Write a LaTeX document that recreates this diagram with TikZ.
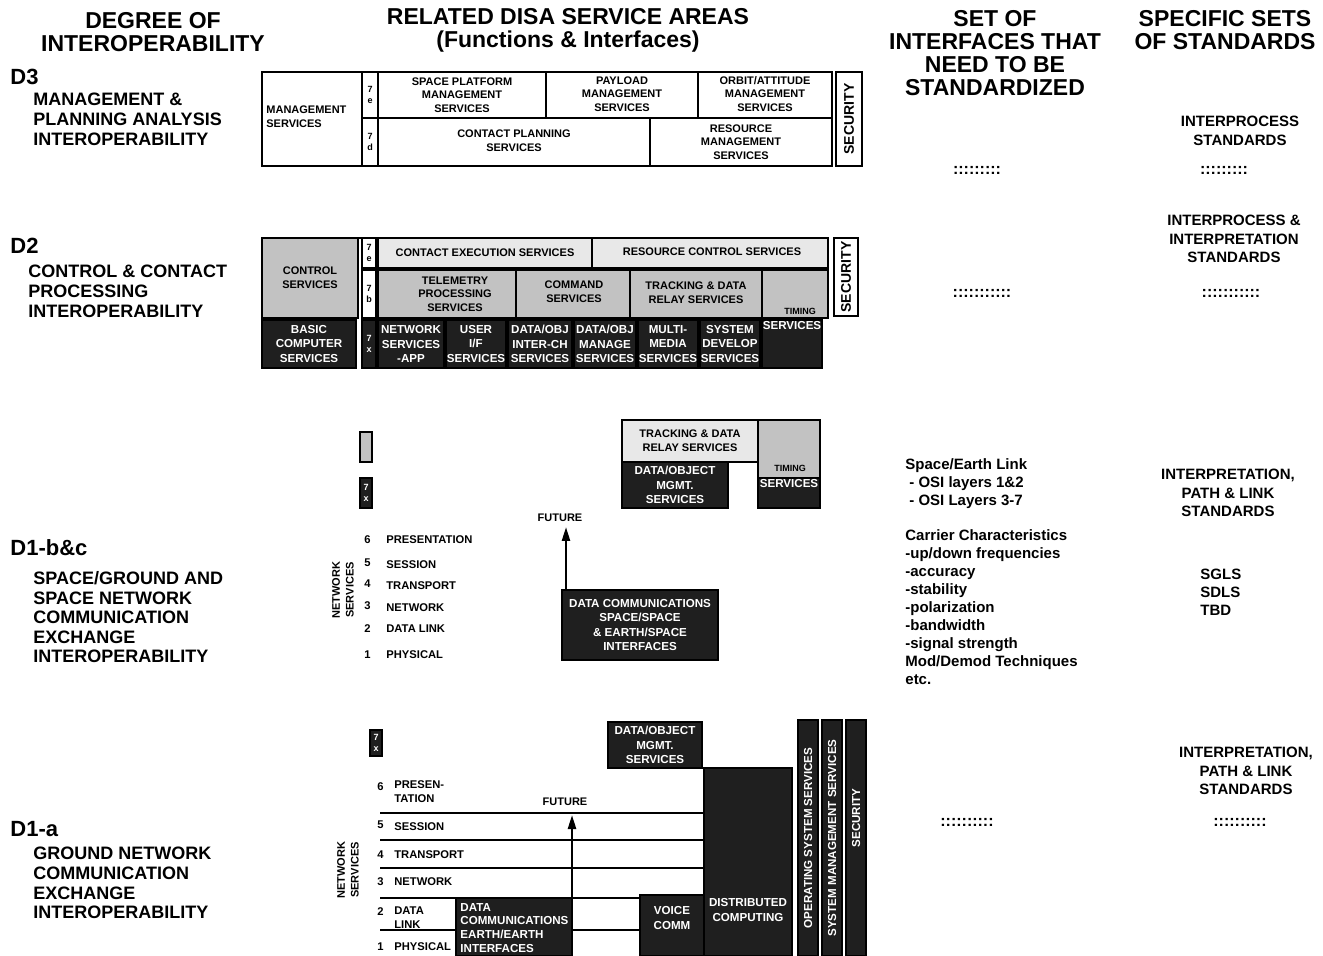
\documentclass[tikz,border=0pt]{standalone}
\usepackage{fontspec}
\setmainfont{Liberation Sans}
\usetikzlibrary{arrows.meta, positioning}
\tikzstyle{arrow}  = [very thick, -{Triangle[length=7pt,width=4pt]}]
\tikzstyle{head}   = [font=\bfseries\fontsize{11.5}{11.5}\selectfont, align=center, inner sep=0pt, anchor=north]
\tikzstyle{dname}  = [font=\bfseries\fontsize{11}{12}\selectfont, anchor=west, inner sep=0pt]
\tikzstyle{dlabel} = [font=\bfseries\fontsize{9}{9.8}\selectfont, align=left, anchor=north west, inner sep=0pt]
\tikzstyle{wbox}   = [draw, line width=0.6pt, fill=white]
\tikzstyle{lbox}   = [draw, line width=0.6pt, fill=gray!18]
\tikzstyle{mbox}   = [draw, line width=0.6pt, fill=gray!48]
\tikzstyle{dbox}   = [draw, line width=0.6pt, fill=black!88]
\tikzstyle{btxt}   = [font=\bfseries\fontsize{5.5}{6.8}\selectfont, align=center, inner sep=0pt]
\tikzstyle{wtxt}   = [font=\bfseries\fontsize{5.8}{7.2}\selectfont, align=center, inner sep=0pt, text=white]
\tikzstyle{tiny}   = [font=\bfseries\fontsize{4.5}{5.5}\selectfont, align=center, inner sep=0pt]
\tikzstyle{osi}    = [font=\bfseries\fontsize{5.6}{7}\selectfont, align=left, anchor=west, inner sep=0pt]
\tikzstyle{note}   = [font=\bfseries\fontsize{7.5}{9}\selectfont, align=left, anchor=north west, inner sep=0pt]
\tikzstyle{std}    = [font=\bfseries\fontsize{7.5}{9.3}\selectfont, align=center, inner sep=0pt]
\tikzstyle{marks}  = [font=\bfseries\fontsize{8}{8}\selectfont, inner sep=0pt]
\tikzstyle{layer}  = [line width=1.2pt]
\begin{document}
\begin{tikzpicture}[x=0.5pt, y=-0.5pt]
\useasboundingbox (0,0) rectangle (1323,956);

% column headings
\node[head] (hdeg)  at (153,12)  {DEGREE OF\\INTEROPERABILITY};
\node[head] (hdisa) at (568,8)   {RELATED DISA SERVICE AREAS\\(Functions \& Interfaces)};
\node[head] (hset)  at (995,10)  {SET OF\\INTERFACES THAT\\NEED TO BE\\STANDARDIZED};
\node[head] (hspec) at (1225,10) {SPECIFIC SETS\\OF STANDARDS};

% degrees of interoperability
\node[dname]  (d3)     at (10,77)  {D3};
\node[dlabel] (d3txt)  at (33,93)  {MANAGEMENT \&\\PLANNING ANALYSIS\\INTEROPERABILITY};
\node[dname]  (d2)     at (10,246) {D2};
\node[dlabel] (d2txt)  at (28,265) {CONTROL \& CONTACT\\PROCESSING\\INTEROPERABILITY};
\node[dname]  (d1bc)   at (10,548) {D1-b\&c};
\node[dlabel] (d1bctxt) at (33,571) {SPACE/GROUND AND\\SPACE NETWORK\\COMMUNICATION\\EXCHANGE\\INTEROPERABILITY};
\node[dname]  (d1a)    at (10,829) {D1-a};
\node[dlabel] (d1atxt) at (33,847) {GROUND NETWORK\\COMMUNICATION\\EXCHANGE\\INTEROPERABILITY};

% D3 block
\draw[wbox] (262,72) rectangle (362,166);
\draw[wbox] (362,72) rectangle (378,118);
\draw[wbox] (362,118) rectangle (378,166);
\draw[wbox] (378,72) rectangle (546,118);
\draw[wbox] (546,72) rectangle (698,118);
\draw[wbox] (698,72) rectangle (832,118);
\draw[wbox] (378,118) rectangle (650,166);
\draw[wbox] (650,118) rectangle (832,166);
\draw[line width=1.4pt] (262,72) rectangle (832,166);
\draw[wbox, line width=1.2pt] (836,72) rectangle (862,166);
\node[btxt, align=left, anchor=west] (mgmt) at (266,117) {MANAGEMENT\\SERVICES};
\node[tiny] (col7e) at (370,95)  {7\\e};
\node[tiny] (col7d) at (370,142) {7\\d};
\node[btxt] (spm)   at (462,95)  {SPACE PLATFORM\\MANAGEMENT\\SERVICES};
\node[btxt] (plm)   at (622,94)  {PAYLOAD\\MANAGEMENT\\SERVICES};
\node[btxt] (oam)   at (765,94)  {ORBIT/ATTITUDE\\MANAGEMENT\\SERVICES};
\node[btxt] (cps)   at (514,141) {CONTACT PLANNING\\SERVICES};
\node[btxt] (rms)   at (741,142) {RESOURCE\\MANAGEMENT\\SERVICES};
\node[btxt, font=\bfseries\fontsize{7}{8}\selectfont, rotate=90] (sec3) at (849,119) {SECURITY};

% D2 block
\draw[mbox] (262,238) rectangle (358,318);
\draw[wbox] (362,238) rectangle (376,268);
\draw[wbox] (362,270) rectangle (376,318);
\draw[lbox] (378,238) rectangle (592,268);
\draw[lbox] (592,238) rectangle (828,268);
\draw[mbox] (378,270) rectangle (516,318);
\draw[mbox] (516,270) rectangle (630,318);
\draw[mbox] (630,270) rectangle (762,318);
\draw[mbox] (762,270) rectangle (828,318);
\draw[line width=1.4pt] (262,238) -- (828,238);
\draw[wbox, line width=1.2pt] (834,238) rectangle (858,316);
\draw[dbox] (262,320) rectangle (356,368);
\draw[dbox] (362,320) rectangle (376,368);
\draw[dbox] (378,320) rectangle (444,368);
\draw[dbox] (446,320) rectangle (506,368);
\draw[dbox] (508,320) rectangle (572,368);
\draw[dbox] (574,320) rectangle (636,368);
\draw[dbox] (638,320) rectangle (698,368);
\draw[dbox] (700,320) rectangle (760,368);
\draw[dbox] (762,320) rectangle (822,368);
\node[btxt] (ctrl)  at (310,278) {CONTROL\\SERVICES};
\node[tiny] (col2e) at (369,253) {7\\e};
\node[tiny] (col2b) at (369,294) {7\\b};
\node[btxt] (ces)   at (485,253) {CONTACT EXECUTION SERVICES};
\node[btxt] (rcs)   at (712,252) {RESOURCE CONTROL SERVICES};
\node[btxt] (tps)   at (455,294) {TELEMETRY\\PROCESSING\\SERVICES};
\node[btxt] (cmd)   at (574,292) {COMMAND\\SERVICES};
\node[btxt] (tdr)   at (696,293) {TRACKING \& DATA\\RELAY SERVICES};
\node[tiny] (tim2)  at (800,311) {TIMING};
\node[btxt, font=\bfseries\fontsize{7}{8}\selectfont, rotate=90] (sec2) at (846,277) {SECURITY};
\node[wtxt] (bcs)   at (309,344) {BASIC\\COMPUTER\\SERVICES};
\node[tiny, text=white] (col2x) at (369,344) {7\\x};
\node[wtxt] (nsa)   at (411,344) {NETWORK\\SERVICES\\-APP};
\node[wtxt] (uif)   at (476,344) {USER\\I/F\\SERVICES};
\node[wtxt] (doi)   at (540,344) {DATA/OBJ\\INTER-CH\\SERVICES};
\node[wtxt] (dom)   at (605,344) {DATA/OBJ\\MANAGE\\SERVICES};
\node[wtxt] (mms)   at (668,344) {MULTI-\\MEDIA\\SERVICES};
\node[wtxt] (sds)   at (730,344) {SYSTEM\\DEVELOP\\SERVICES};
\node[wtxt] (tsv)   at (792,326) {SERVICES};

% D1-b&c block
\draw[mbox] (360,432) rectangle (372,462);
\draw[dbox] (360,478) rectangle (372,508);
\node[tiny, text=white] (bcx) at (366,493) {7\\x};
\node[osi] (bc6) at (364,540) {6}; \node[osi] (bcl6) at (386,540) {PRESENTATION};
\node[osi] (bc5) at (364,563) {5}; \node[osi] (bcl5) at (386,565) {SESSION};
\node[osi] (bc4) at (364,584) {4}; \node[osi] (bcl4) at (386,586) {TRANSPORT};
\node[osi] (bc3) at (364,606) {3}; \node[osi] (bcl3) at (386,608) {NETWORK};
\node[osi] (bc2) at (364,629) {2}; \node[osi] (bcl2) at (386,629) {DATA LINK};
\node[osi] (bc1) at (364,655) {1}; \node[osi] (bcl1) at (386,655) {PHYSICAL};
\node[btxt, rotate=90] (bcnet) at (343,590) {NETWORK\\SERVICES};
\draw[lbox] (622,420) rectangle (758,462);
\draw[mbox] (758,420) rectangle (820,478);
\draw[dbox] (622,462) rectangle (728,508);
\draw[dbox] (758,478) rectangle (820,508);
\draw[line width=1.4pt] (622,420) -- (820,420);
\node[btxt] (tdr1) at (690,441) {TRACKING \& DATA\\RELAY SERVICES};
\node[tiny] (tim1) at (790,468) {TIMING};
\node[wtxt] (dom1) at (675,485) {DATA/OBJECT\\MGMT.\\SERVICES};
\node[wtxt] (tsv1) at (789,484) {SERVICES};
\draw[dbox] (562,590) rectangle (718,660);
\node[wtxt] (dcs) at (640,625) {DATA COMMUNICATIONS\\SPACE/SPACE\\\& EARTH/SPACE\\INTERFACES};
\node[btxt] (fut1) at (560,518) {FUTURE};
\coordinate (fbase1) at (566,590);
\coordinate (ftip1) at (566,527);
\draw[arrow] (fbase1) -- (ftip1);

% D1-a block
\draw[dbox] (370,730) rectangle (382,756);
\node[tiny, text=white] (ax) at (376,743) {7\\x};
\draw[layer] (380,813) -- (704,813);
\draw[layer] (380,840) -- (704,840);
\draw[layer] (380,868) -- (704,868);
\draw[layer] (380,898) -- (640,898);
\draw[layer] (380,930) -- (640,930);
\node[osi] (a6) at (377,787) {6}; \node[osi, anchor=north west] (al6) at (394,780) {PRESEN-\\TATION};
\node[osi] (a5) at (377,825) {5}; \node[osi] (al5) at (394,827) {SESSION};
\node[osi] (a4) at (377,855) {4}; \node[osi] (al4) at (394,855) {TRANSPORT};
\node[osi] (a3) at (377,882) {3}; \node[osi] (al3) at (394,882) {NETWORK};
\node[osi] (a2) at (377,912) {2}; \node[osi, anchor=north west] (al2) at (394,906) {DATA\\LINK};
\node[osi] (a1) at (377,947) {1}; \node[osi] (al1) at (394,947) {PHYSICAL};
\node[btxt, rotate=90] (anet) at (348,870) {NETWORK\\SERVICES};
\draw[dbox] (456,898) rectangle (572,956);
\node[wtxt, font=\bfseries\fontsize{5.8}{6.8}\selectfont, align=left, anchor=north west] (dce) at (460,903) {DATA\\COMMUNICATIONS\\EARTH/EARTH\\INTERFACES};
\draw[dbox] (640,895) rectangle (704,956);
\node[wtxt] (vcm) at (672,918) {VOICE\\COMM};
\draw[dbox] (608,722) rectangle (702,768);
\node[wtxt] (dom0) at (655,745) {DATA/OBJECT\\MGMT.\\SERVICES};
\draw[dbox] (704,768) rectangle (792,956);
\node[wtxt] (dcp) at (748,910) {DISTRIBUTED\\COMPUTING};
\draw[dbox] (798,720) rectangle (818,956);
\draw[dbox] (822,720) rectangle (842,956);
\draw[dbox] (846,720) rectangle (866,956);
\node[wtxt, rotate=90] (oss) at (808,838) {OPERATING SYSTEM SERVICES};
\node[wtxt, rotate=90] (sms) at (832,838) {SYSTEM MANAGEMENT SERVICES};
\node[wtxt, rotate=90] (sec1) at (856,818) {SECURITY};
\node[btxt] (fut0) at (565,802) {FUTURE};
\coordinate (fbase0) at (572,898);
\coordinate (ftip0) at (572,815);
\draw[arrow] (fbase0) -- (ftip0);

% interfaces and standards
\node[marks] (i3) at (977,170)  {:::::::::};
\node[marks] (m3) at (1224,170) {:::::::::};
\node[marks] (i2) at (982,293)  {:::::::::::};
\node[marks] (m2) at (1231,293) {:::::::::::};
\node[marks] (i1) at (967,822)  {::::::::::};
\node[marks] (m1) at (1240,822) {::::::::::};
\node[std] (s3)   at (1240,131) {INTERPROCESS\\STANDARDS};
\node[std] (s2)   at (1234,239) {INTERPROCESS \&\\INTERPRETATION\\STANDARDS};
\node[std] (s1bc) at (1228,493) {INTERPRETATION,\\PATH \& LINK\\STANDARDS};
\node[std] (s1a)  at (1246,771) {INTERPRETATION,\\PATH \& LINK\\STANDARDS};
\node[note] (sgls) at (1200,569) {SGLS\\SDLS\\TBD};
\node[note] (selink) at (905,458) {Space/Earth Link\\\hspace*{2pt}- OSI layers 1\&2\\\hspace*{2pt}- OSI Layers 3-7};
\node[note] (carrier) at (905,529) {Carrier Characteristics\\-up/down frequencies\\-accuracy\\-stability\\-polarization\\-bandwidth\\-signal strength\\Mod/Demod Techniques\\etc.};

\end{tikzpicture}
\end{document}
